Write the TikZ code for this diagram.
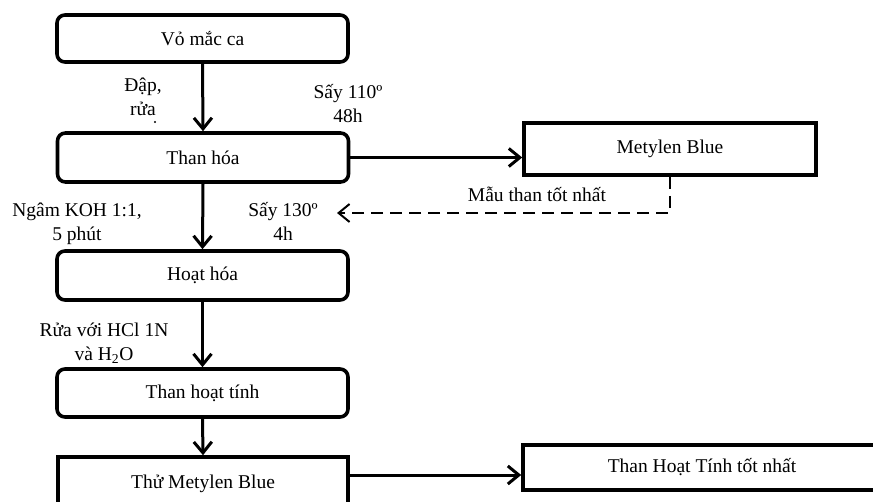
\documentclass[tikz,border=0pt]{standalone}
\usepackage{fontspec}
\setmainfont{Liberation Serif}
\usetikzlibrary{arrows.meta}
\begin{document}
\begin{tikzpicture}[x=1pt,y=-1pt,
  txt/.style={font=\fontsize{19.5}{24}\selectfont},
  rbox/.style={txt,draw,line width=3.6pt,rounded corners=8pt,minimum width=291pt,inner sep=0pt},
  sbox/.style={txt,draw,line width=3.6pt,inner sep=0pt},
  lbl/.style={txt,inner sep=0pt,align=center},
  flow/.style={line width=3pt,-{Straight Barb[length=11pt,width=18pt,line width=3pt]}},
  back/.style={line width=2pt,dash pattern=on 12pt off 7pt,-{Straight Barb[length=11pt,width=18pt,line width=2pt]}}]
\clip (0,0) rectangle (873,502);
\fill[white] (0,0) rectangle (873,502);
% boxes
\node[rbox,minimum height=47pt] (b1) at (202.5,38.5) {Vỏ mắc ca};
\node[rbox,minimum height=49pt] (b2) at (203,157.5) {Than hóa};
\node[rbox,minimum height=49pt] (b3) at (202.5,275.5) {Hoạt hóa};
\node[rbox,minimum height=48pt] (b4) at (202.5,393) {Than hoạt tính};
\node[sbox,minimum width=290pt,minimum height=53pt] (b5) at (203,483.5) {Thử Metylen Blue};
\node[sbox,minimum width=292pt,minimum height=52pt] (mb) at (670,149) {Metylen Blue};
\node[sbox,minimum width=362pt,minimum height=45pt] (b6) at (704,467.5) {};
\node[txt,inner sep=0pt] (b6t) at (702,467) {Than Hoạt Tính tốt nhất};
% labels
\node[lbl] (l1) at (143,97) {Đập,\\rửa};
\fill (155,122) circle (1.2pt);
\node[lbl] (l2) at (348,104) {Sấy 110º\\48h};
\node[lbl] (l3) at (77,223.5) {Ngâm KOH 1:1,\\5 phút};
\node[lbl] (l4) at (283,221) {Sấy 130º\\4h};
\node[lbl] (l5) at (104,343.5) {Rửa với HCl 1N\\và H\textsubscript{2}O};
\node[lbl] (l6) at (537,194) {Mẫu than tốt nhất};
% connectors
\draw[flow] (b1.south) -- (b2.north);
\draw[flow] (b2.south) -- (b3.north);
\draw[flow] (b3.south) -- (b4.north);
\draw[flow] (b4.south) -- (b5.north);
\draw[flow] (b2.east) -- (b2.east -| mb.west);
\coordinate (a5) at (348,475);
\draw[flow] (a5) -- (a5 -| b6.west);
\coordinate (dend) at (337,213);
\draw[back] (mb.south) -- (mb.south |- dend) -- (dend);
\end{tikzpicture}
\end{document}
